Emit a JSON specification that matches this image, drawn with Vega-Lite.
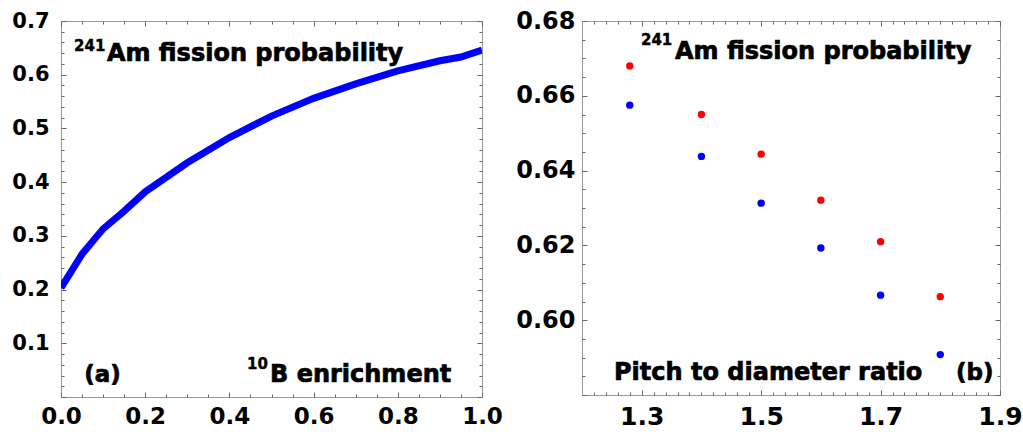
{
  "$schema": "https://vega.github.io/schema/vega-lite/v6.json",
  "padding": {"left": 11, "top": 8, "right": 0, "bottom": 0},
  "spacing": 12,
  "config": {
    "view": {"stroke": "#999999", "strokeWidth": 1},
    "axis": {
      "grid": false,
      "domain": false,
      "labelFont": "DejaVu Sans",
      "labelFontWeight": "bold",
      "labelColor": "#000000",
      "tickColor": "#666666",
      "tickWidth": 1,
      "labelFlush": false,
      "labelOverlap": false,
      "labelBound": false,
      "title": null
    },
    "text": {"font": "DejaVu Sans", "fontWeight": "bold", "color": "#000000", "stroke": "#000000", "strokeWidth": 0.7, "align": "left", "baseline": "alphabetic"}
  },
  "datasets": {
    "curve": [
      {"enrichment": 0.0, "probability": 0.203},
      {"enrichment": 0.05, "probability": 0.266},
      {"enrichment": 0.1, "probability": 0.313},
      {"enrichment": 0.15, "probability": 0.346},
      {"enrichment": 0.2, "probability": 0.382},
      {"enrichment": 0.3, "probability": 0.436},
      {"enrichment": 0.4, "probability": 0.483},
      {"enrichment": 0.5, "probability": 0.523},
      {"enrichment": 0.6, "probability": 0.556},
      {"enrichment": 0.7, "probability": 0.583},
      {"enrichment": 0.8, "probability": 0.607},
      {"enrichment": 0.9, "probability": 0.626},
      {"enrichment": 0.95, "probability": 0.633},
      {"enrichment": 1.0, "probability": 0.646}
    ],
    "points": [
      {"pitch_ratio": 1.28, "probability": 0.668, "series": "A"},
      {"pitch_ratio": 1.28, "probability": 0.6575, "series": "B"},
      {"pitch_ratio": 1.4, "probability": 0.655, "series": "A"},
      {"pitch_ratio": 1.4, "probability": 0.6438, "series": "B"},
      {"pitch_ratio": 1.5, "probability": 0.6444, "series": "A"},
      {"pitch_ratio": 1.5, "probability": 0.6313, "series": "B"},
      {"pitch_ratio": 1.6, "probability": 0.6321, "series": "A"},
      {"pitch_ratio": 1.6, "probability": 0.6193, "series": "B"},
      {"pitch_ratio": 1.7, "probability": 0.621, "series": "A"},
      {"pitch_ratio": 1.7, "probability": 0.6067, "series": "B"},
      {"pitch_ratio": 1.8, "probability": 0.6063, "series": "A"},
      {"pitch_ratio": 1.8, "probability": 0.5908, "series": "B"}
    ]
  },
  "hconcat": [
    {
      "width": 421,
      "height": 376,
      "data": {"name": "curve"},
      "resolve": {"axis": {"x": "independent", "y": "independent"}},
      "layer": [
        {
          "mark": {"type": "line", "color": "#0000ff", "strokeWidth": 7, "clip": true},
          "encoding": {
            "x": {"field": "enrichment", "type": "quantitative", "scale": {"domain": [0, 1], "nice": false}, "axis": {"orient": "bottom", "values": [0, 0.2, 0.4, 0.6, 0.8, 1.0], "format": ".1f", "ticks": false, "labelFontSize": 23, "labelPadding": 8}},
            "y": {"field": "probability", "type": "quantitative", "scale": {"domain": [0, 0.7], "nice": false, "zero": false}, "axis": {"orient": "left", "values": [0.1, 0.2, 0.3, 0.4, 0.5, 0.6, 0.7], "format": ".1f", "ticks": false, "labelFontSize": 21, "labelPadding": 12}}
          }
        },
        {
          "mark": {"type": "point", "opacity": 0},
          "encoding": {
            "x": {"field": "enrichment", "type": "quantitative", "axis": {"orient": "bottom", "values": [0, 0.2, 0.4, 0.6, 0.8, 1.0], "labels": false, "tickSize": -5}},
            "y": {"field": "probability", "type": "quantitative", "axis": {"orient": "left", "values": [0, 0.1, 0.2, 0.3, 0.4, 0.5, 0.6, 0.7], "labels": false, "tickSize": -5}}
          }
        },
        {
          "mark": {"type": "point", "opacity": 0},
          "encoding": {
            "x": {"field": "enrichment", "type": "quantitative", "axis": {"orient": "bottom", "values": [0.05, 0.1, 0.15, 0.25, 0.3, 0.35, 0.45, 0.5, 0.55, 0.65, 0.7, 0.75, 0.85, 0.9, 0.95], "labels": false, "tickSize": -3}},
            "y": {"field": "probability", "type": "quantitative", "axis": {"orient": "left", "values": [0.02, 0.04, 0.06, 0.08, 0.12, 0.14, 0.16, 0.18, 0.22, 0.24, 0.26, 0.28, 0.32, 0.34, 0.36, 0.38, 0.42, 0.44, 0.46, 0.48, 0.52, 0.54, 0.56, 0.58, 0.62, 0.64, 0.66, 0.68], "labels": false, "tickSize": -3}}
          }
        },
        {
          "mark": {"type": "point", "opacity": 0},
          "encoding": {
            "x": {"field": "enrichment", "type": "quantitative", "axis": {"orient": "top", "values": [0, 0.2, 0.4, 0.6, 0.8, 1.0], "labels": false, "tickSize": -5}},
            "y": {"field": "probability", "type": "quantitative", "axis": {"orient": "right", "values": [0, 0.1, 0.2, 0.3, 0.4, 0.5, 0.6, 0.7], "labels": false, "tickSize": -5}}
          }
        },
        {
          "mark": {"type": "point", "opacity": 0},
          "encoding": {
            "x": {"field": "enrichment", "type": "quantitative", "axis": {"orient": "top", "values": [0.05, 0.1, 0.15, 0.25, 0.3, 0.35, 0.45, 0.5, 0.55, 0.65, 0.7, 0.75, 0.85, 0.9, 0.95], "labels": false, "tickSize": -3}},
            "y": {"field": "probability", "type": "quantitative", "axis": {"orient": "right", "values": [0.02, 0.04, 0.06, 0.08, 0.12, 0.14, 0.16, 0.18, 0.22, 0.24, 0.26, 0.28, 0.32, 0.34, 0.36, 0.38, 0.42, 0.44, 0.46, 0.48, 0.52, 0.54, 0.56, 0.58, 0.62, 0.64, 0.66, 0.68], "labels": false, "tickSize": -3}}
          }
        },
        {
          "data": {"values": [{}]},
          "mark": {"type": "text", "text": "241", "fontSize": 15, "strokeWidth": 0.4},
          "encoding": {"x": {"datum": 0.031, "type": "quantitative", "axis": null}, "y": {"datum": 0.645, "type": "quantitative", "axis": null}}
        },
        {
          "data": {"values": [{}]},
          "mark": {"type": "text", "text": "Am fission probability", "fontSize": 24},
          "encoding": {"x": {"datum": 0.109, "type": "quantitative", "axis": null}, "y": {"datum": 0.6256, "type": "quantitative", "axis": null}}
        },
        {
          "data": {"values": [{}]},
          "mark": {"type": "text", "text": "(a)", "fontSize": 23},
          "encoding": {"x": {"datum": 0.055, "type": "quantitative", "axis": null}, "y": {"datum": 0.027, "type": "quantitative", "axis": null}}
        },
        {
          "data": {"values": [{}]},
          "mark": {"type": "text", "text": "10", "fontSize": 15, "strokeWidth": 0.4},
          "encoding": {"x": {"datum": 0.442, "type": "quantitative", "axis": null}, "y": {"datum": 0.052, "type": "quantitative", "axis": null}}
        },
        {
          "data": {"values": [{}]},
          "mark": {"type": "text", "text": "B enrichment", "fontSize": 24},
          "encoding": {"x": {"datum": 0.4964, "type": "quantitative", "axis": null}, "y": {"datum": 0.027, "type": "quantitative", "axis": null}}
        }
      ]
    },
    {
      "width": 418,
      "height": 374,
      "data": {"name": "points"},
      "resolve": {"axis": {"x": "independent", "y": "independent"}},
      "layer": [
        {
          "mark": {"type": "circle", "size": 55, "opacity": 1},
          "encoding": {
            "x": {"field": "pitch_ratio", "type": "quantitative", "scale": {"domain": [1.2, 1.9], "nice": false, "zero": false}, "axis": {"orient": "bottom", "values": [1.3, 1.5, 1.7, 1.9], "format": ".1f", "ticks": false, "labelFontSize": 25, "labelPadding": 9}},
            "y": {"field": "probability", "type": "quantitative", "scale": {"domain": [0.58, 0.68], "nice": false, "zero": false}, "axis": {"orient": "left", "values": [0.6, 0.62, 0.64, 0.66, 0.68], "format": ".2f", "ticks": false, "labelFontSize": 24, "labelPadding": 7}},
            "color": {"field": "series", "type": "nominal", "scale": {"domain": ["A", "B"], "range": ["#ff0000", "#0000ff"]}, "legend": null}
          }
        },
        {
          "mark": {"type": "point", "opacity": 0},
          "encoding": {
            "x": {"field": "pitch_ratio", "type": "quantitative", "axis": {"orient": "bottom", "values": [1.3, 1.5, 1.7, 1.9], "labels": false, "tickSize": -5}},
            "y": {"field": "probability", "type": "quantitative", "axis": {"orient": "left", "values": [0.58, 0.6, 0.62, 0.64, 0.66, 0.68], "labels": false, "tickSize": -5}}
          }
        },
        {
          "mark": {"type": "point", "opacity": 0},
          "encoding": {
            "x": {"field": "pitch_ratio", "type": "quantitative", "axis": {"orient": "bottom", "values": [1.22, 1.24, 1.26, 1.28, 1.32, 1.34, 1.36, 1.38, 1.4, 1.42, 1.44, 1.46, 1.48, 1.52, 1.54, 1.56, 1.58, 1.6, 1.62, 1.64, 1.66, 1.68, 1.72, 1.74, 1.76, 1.78, 1.8, 1.82, 1.84, 1.86, 1.88], "labels": false, "tickSize": -3}},
            "y": {"field": "probability", "type": "quantitative", "axis": {"orient": "left", "values": [0.585, 0.59, 0.595, 0.605, 0.61, 0.615, 0.625, 0.63, 0.635, 0.645, 0.65, 0.655, 0.665, 0.67, 0.675], "labels": false, "tickSize": -3}}
          }
        },
        {
          "mark": {"type": "point", "opacity": 0},
          "encoding": {
            "x": {"field": "pitch_ratio", "type": "quantitative", "axis": {"orient": "top", "values": [1.3, 1.5, 1.7, 1.9], "labels": false, "tickSize": -5}},
            "y": {"field": "probability", "type": "quantitative", "axis": {"orient": "right", "values": [0.58, 0.6, 0.62, 0.64, 0.66, 0.68], "labels": false, "tickSize": -5}}
          }
        },
        {
          "mark": {"type": "point", "opacity": 0},
          "encoding": {
            "x": {"field": "pitch_ratio", "type": "quantitative", "axis": {"orient": "top", "values": [1.22, 1.24, 1.26, 1.28, 1.32, 1.34, 1.36, 1.38, 1.4, 1.42, 1.44, 1.46, 1.48, 1.52, 1.54, 1.56, 1.58, 1.6, 1.62, 1.64, 1.66, 1.68, 1.72, 1.74, 1.76, 1.78, 1.8, 1.82, 1.84, 1.86, 1.88], "labels": false, "tickSize": -3}},
            "y": {"field": "probability", "type": "quantitative", "axis": {"orient": "right", "values": [0.585, 0.59, 0.595, 0.605, 0.61, 0.615, 0.625, 0.63, 0.635, 0.645, 0.65, 0.655, 0.665, 0.67, 0.675], "labels": false, "tickSize": -3}}
          }
        },
        {
          "data": {"values": [{}]},
          "mark": {"type": "text", "text": "241", "fontSize": 15, "strokeWidth": 0.4},
          "encoding": {"x": {"datum": 1.2988, "type": "quantitative", "axis": null}, "y": {"datum": 0.6737, "type": "quantitative", "axis": null}}
        },
        {
          "data": {"values": [{}]},
          "mark": {"type": "text", "text": "Am fission probability", "fontSize": 24},
          "encoding": {"x": {"datum": 1.3558, "type": "quantitative", "axis": null}, "y": {"datum": 0.6698, "type": "quantitative", "axis": null}}
        },
        {
          "data": {"values": [{}]},
          "mark": {"type": "text", "text": "Pitch to diameter ratio", "fontSize": 24},
          "encoding": {"x": {"datum": 1.2536, "type": "quantitative", "axis": null}, "y": {"datum": 0.584, "type": "quantitative", "axis": null}}
        },
        {
          "data": {"values": [{}]},
          "mark": {"type": "text", "text": "(b)", "fontSize": 23},
          "encoding": {"x": {"datum": 1.8265, "type": "quantitative", "axis": null}, "y": {"datum": 0.584, "type": "quantitative", "axis": null}}
        }
      ]
    }
  ]
}
